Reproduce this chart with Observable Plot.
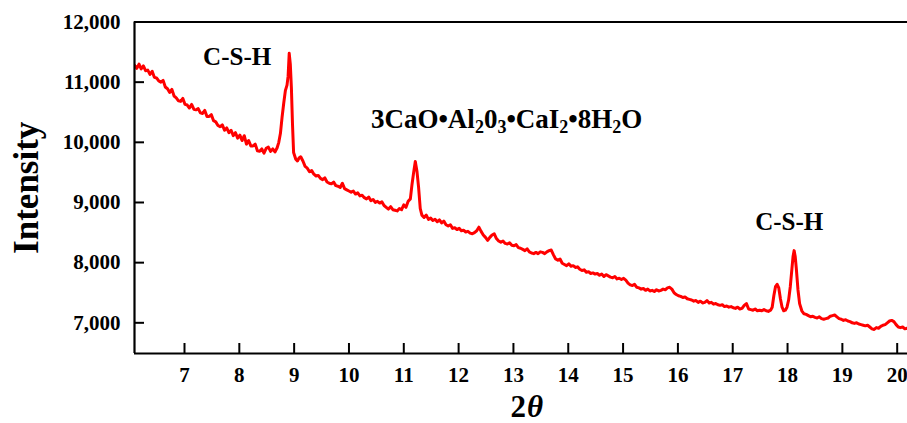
<!DOCTYPE html>
<html>
<head>
<meta charset="utf-8">
<script src="https://cdn.jsdelivr.net/npm/d3@7"></script>
<script src="https://cdn.jsdelivr.net/npm/@observablehq/plot@0.6"></script>
<style>
  html, body { margin: 0; padding: 0; background: #fff; }
</style>
</head>
<body>
<script>
// ---- data ----
const twoTheta = [
  6.09,6.13,6.17,6.21,6.25,6.29,6.33,6.37,6.41,6.45,6.49,6.53,6.57,6.61,6.65,6.69,6.73,6.77,6.81,6.85,
  6.89,6.93,6.97,7.01,7.05,7.09,7.13,7.17,7.21,7.25,7.29,7.33,7.37,7.41,7.45,7.49,7.53,7.57,7.61,7.65,
  7.69,7.73,7.77,7.81,7.85,7.89,7.93,7.97,8.01,8.05,8.09,8.13,8.17,8.21,8.25,8.29,8.33,8.37,8.41,8.45,
  8.49,8.53,8.57,8.61,8.65,8.69,8.72,8.75,8.78,8.81,8.84,8.87,8.89,8.91,8.93,8.95,8.97,8.99,9.03,9.06,
  9.09,9.12,9.16,9.20,9.24,9.28,9.32,9.36,9.40,9.44,9.48,9.52,9.56,9.60,9.64,9.68,9.72,9.76,9.80,9.84,
  9.88,9.92,9.96,10.00,10.04,10.08,10.12,10.16,10.20,10.24,10.28,10.32,10.36,10.40,10.44,10.48,10.52,10.56,10.60,10.64,
  10.68,10.72,10.76,10.80,10.84,10.88,10.92,10.96,11.00,11.04,11.08,11.12,11.15,11.18,11.21,11.24,11.27,11.30,11.33,11.37,
  11.41,11.45,11.49,11.53,11.57,11.61,11.65,11.69,11.73,11.77,11.81,11.85,11.89,11.93,11.97,12.01,12.05,12.09,12.13,12.17,
  12.21,12.25,12.29,12.33,12.37,12.41,12.45,12.49,12.53,12.57,12.61,12.65,12.69,12.73,12.77,12.81,12.85,12.89,12.93,12.97,
  13.01,13.05,13.09,13.13,13.17,13.21,13.25,13.29,13.33,13.37,13.41,13.45,13.49,13.53,13.57,13.61,13.65,13.69,13.73,13.77,
  13.81,13.85,13.89,13.93,13.97,14.01,14.05,14.09,14.13,14.17,14.21,14.25,14.29,14.33,14.37,14.41,14.45,14.49,14.53,14.57,
  14.61,14.65,14.69,14.73,14.77,14.81,14.85,14.89,14.93,14.97,15.01,15.05,15.09,15.13,15.17,15.21,15.25,15.29,15.33,15.37,
  15.41,15.45,15.49,15.53,15.57,15.61,15.65,15.69,15.73,15.77,15.81,15.85,15.89,15.93,15.97,16.01,16.05,16.09,16.13,16.17,
  16.21,16.25,16.29,16.33,16.37,16.41,16.45,16.49,16.53,16.57,16.61,16.65,16.69,16.73,16.77,16.81,16.85,16.89,16.93,16.97,
  17.01,17.05,17.09,17.13,17.17,17.21,17.25,17.29,17.33,17.37,17.41,17.45,17.49,17.53,17.57,17.61,17.65,17.69,17.72,17.75,
  17.78,17.81,17.84,17.87,17.90,17.93,17.96,17.99,18.02,18.05,18.08,18.10,18.12,18.14,18.16,18.19,18.22,18.26,18.30,18.34,
  18.38,18.42,18.46,18.50,18.54,18.58,18.62,18.66,18.70,18.74,18.78,18.82,18.86,18.90,18.94,18.98,19.02,19.06,19.10,19.14,
  19.18,19.22,19.26,19.30,19.34,19.38,19.42,19.46,19.50,19.54,19.58,19.62,19.66,19.70,19.74,19.78,19.82,19.86,19.90,19.94,
  19.98,20.02,20.06,20.10,20.14,20.18,20.22
];
const intensity = [
  11280,11230,11300,11220,11270,11190,11200,11130,11180,11080,11070,11020,11000,11030,10920,10890,10830,10880,10770,10740,
  10690,10680,10730,10630,10620,10570,10630,10550,10540,10560,10490,10480,10530,10430,10430,10460,10360,10340,10280,10260,
  10290,10200,10240,10160,10200,10110,10160,10070,10120,10030,10110,9970,10030,9940,9940,9970,9860,9850,9890,9820,
  9900,9920,9850,9890,9840,9910,10000,10150,10420,10650,10860,10950,11100,11480,11300,10900,10300,9830,9720,9690,
  9740,9760,9690,9600,9570,9510,9530,9470,9440,9450,9400,9380,9410,9340,9320,9310,9340,9280,9270,9250,
  9320,9230,9210,9190,9170,9190,9140,9160,9110,9120,9080,9060,9090,9030,9050,9000,9020,8990,9010,8950,
  8920,8890,8930,8880,8870,8860,8900,8880,8960,8920,9020,9060,9300,9500,9680,9520,9250,8900,8790,8750,
  8790,8720,8740,8700,8720,8680,8710,8660,8690,8630,8610,8630,8570,8580,8550,8570,8530,8540,8510,8520,
  8490,8480,8500,8530,8590,8520,8460,8420,8370,8420,8460,8480,8400,8360,8340,8360,8320,8310,8330,8290,
  8280,8300,8250,8240,8220,8200,8230,8180,8160,8150,8170,8150,8180,8170,8150,8180,8200,8210,8130,8060,
  8040,8060,7990,7970,7950,7980,7940,7950,7920,7930,7890,7870,7880,7840,7850,7820,7830,7810,7820,7790,
  7810,7770,7800,7780,7760,7750,7770,7730,7740,7720,7740,7710,7660,7630,7620,7640,7590,7580,7560,7570,
  7540,7560,7530,7540,7520,7550,7530,7540,7560,7550,7580,7590,7560,7500,7470,7450,7440,7420,7430,7400,
  7390,7380,7360,7370,7340,7360,7330,7340,7370,7330,7340,7310,7320,7300,7290,7300,7270,7280,7260,7270,
  7250,7240,7260,7230,7240,7290,7320,7230,7220,7210,7230,7200,7210,7200,7220,7200,7190,7210,7260,7450,
  7600,7640,7580,7400,7260,7200,7210,7260,7380,7600,7900,8100,8200,8100,7900,7550,7320,7200,7150,7140,
  7120,7100,7110,7090,7080,7100,7070,7060,7070,7080,7110,7120,7130,7100,7070,7060,7040,7050,7030,7020,
  7000,6990,7000,6980,6970,6960,6950,6960,6930,6900,6890,6920,6910,6940,6960,6970,7000,7030,7040,7020,
  6970,6930,6920,6930,6900,6910,6890
];
const xTicks = [7, 8, 9, 10, 11, 12, 13, 14, 15, 16, 17, 18, 19, 20];
const yTicks = [7000, 8000, 9000, 10000, 11000, 12000];
const xDomain = [6.088, 20.188];
const yDomain = [6490, 12000];
const peakLabels = ["C-S-H", "C-S-H"];
const peakLabelX = [7.96, 18.03];
const peakLabelY = [11281, 8536];
const phaseLabel = "3CaO•Al₂0₃•CaI₂•8H₂O";
const phaseLabelX = 10.40;
const phaseLabelY = 10238;

// ---- build ----
const W = 907, H = 423;
const mL = 134, mR = 0, mT = 21.5, mB = 70;
const frameW = W - mL - mR, frameH = H - mT - mB;
const tickLen = 10;

const spectrum = twoTheta.map((t, i) => ({t, v: intensity[i]}));
const peaks = peakLabels.map((s, i) => ({s, x: peakLabelX[i], y: peakLabelY[i]}));
const serif = "'Liberation Serif', 'Times New Roman', serif";

const plot = Plot.plot({
  width: W, height: H,
  marginLeft: mL, marginRight: mR, marginTop: mT, marginBottom: mB,
  style: {fontFamily: serif, fontWeight: "bold", background: "#fff", color: "#000", overflow: "visible"},
  x: {domain: xDomain, label: null},
  y: {domain: yDomain, label: null},
  marks: [
    Plot.line(spectrum, {x: "t", y: "v", stroke: "#ff0000", strokeWidth: 3, strokeLinejoin: "round", clip: true}),
    Plot.tickX(xTicks, {x: d => d, stroke: "#000", strokeWidth: 2, insetTop: frameH - tickLen}),
    Plot.tickY(yTicks, {y: d => d, stroke: "#000", strokeWidth: 2, insetRight: frameW - tickLen}),
    Plot.ruleX([xDomain[0]], {stroke: "#000", strokeWidth: 2.2}),
    Plot.ruleY([yDomain[0]], {stroke: "#000", strokeWidth: 2.2}),
    Plot.ruleY([yDomain[1]], {stroke: "#000", strokeWidth: 2.2}),
    Plot.axisX({ticks: xTicks, tickSize: 0, tickPadding: 14, fontSize: 21, fontWeight: "bold", label: null}),
    Plot.axisY({ticks: yTicks, tickSize: 0, tickPadding: 14, fontSize: 21, fontWeight: "bold", tickFormat: d3.format(","), label: null}),
    Plot.text(peaks, {x: "x", y: "y", text: "s", textAnchor: "middle", lineAnchor: "bottom",
      fontSize: 25, fontWeight: "bold", fill: "#000"}),
    Plot.text([phaseLabel], {x: () => phaseLabelX, y: () => phaseLabelY, textAnchor: "start", lineAnchor: "bottom",
      fontSize: 27, fontWeight: "bold", fill: "#000"}),
    Plot.text(["Intensity"], {frameAnchor: "left", rotate: -90, textAnchor: "middle", lineAnchor: "bottom",
      dx: -97, fontSize: 35, fontWeight: "bold", fill: "#000"}),
    Plot.text(["2"], {frameAnchor: "bottom", textAnchor: "end", lineAnchor: "bottom",
      dx: 5, dy: 63, fontSize: 31, fontWeight: "bold", fill: "#000"}),
    Plot.text(["θ"], {frameAnchor: "bottom", textAnchor: "start", lineAnchor: "bottom",
      dx: 6, dy: 63, fontSize: 31, fontWeight: "bold", fontStyle: "italic", fill: "#000"})
  ]
});

// render chemical subscripts as real tspans
const subMap = {"₂": "2", "₃": "3"};
plot.querySelectorAll("text").forEach(el => {
  const s = el.textContent;
  if (!/[₂₃]/.test(s) || el.children.length) return;
  el.textContent = "";
  const NS = "http://www.w3.org/2000/svg";
  let sub = false;
  for (const ch of s) {
    const isSub = ch in subMap;
    const ts = document.createElementNS(NS, "tspan");
    ts.textContent = isSub ? subMap[ch] : ch;
    if (isSub) { ts.setAttribute("font-size", "18"); if (!sub) ts.setAttribute("dy", "5"); }
    else if (sub) ts.setAttribute("dy", "-5");
    sub = isSub;
    el.appendChild(ts);
  }
});

document.body.append(plot);
</script>
</body>
</html>
